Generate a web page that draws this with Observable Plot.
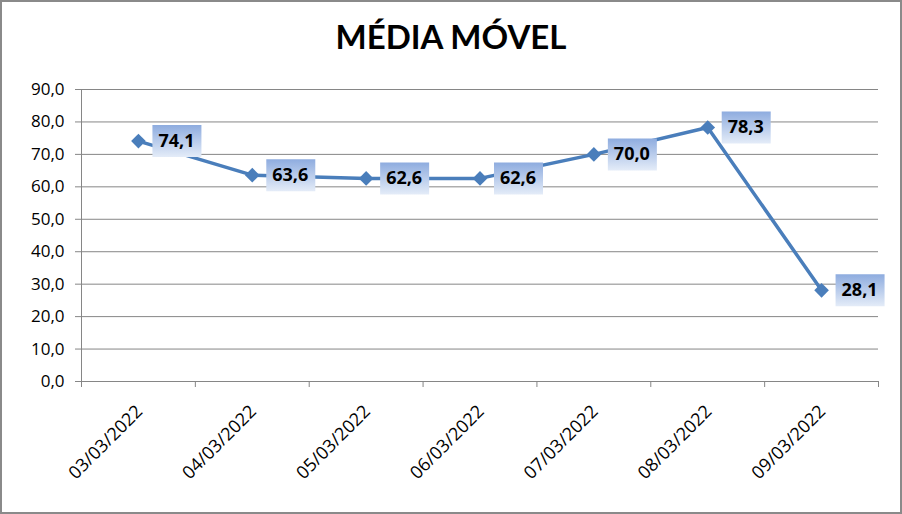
<!DOCTYPE html>
<html>
<head>
<meta charset="utf-8">
<script src="https://cdn.jsdelivr.net/npm/d3@7"></script>
<script src="https://cdn.jsdelivr.net/npm/@observablehq/plot@0.6"></script>
<style>
  html, body { margin: 0; padding: 0; background: #fff; }
  #wrap { position: relative; width: 902px; height: 514px; box-sizing: border-box; border: 2px solid #8a8a8a; background: #fff; overflow: hidden; }
  #title { position: absolute; left: 0; top: 14px; width: 898px; text-align: center; font-family: Lato, "Open Sans", sans-serif; font-weight: bold; font-size: 33px; color: #000; line-height: 40px; }
  svg { display: block; }
</style>
</head>
<body>
<div id="wrap"><div id="title">MÉDIA MÓVEL</div></div>
<script>
const dates = ["03/03/2022", "04/03/2022", "05/03/2022", "06/03/2022", "07/03/2022", "08/03/2022", "09/03/2022"];
const values = [74.1, 63.6, 62.6, 62.6, 70.0, 78.3, 28.1];
const yTicks = [0, 10, 20, 30, 40, 50, 60, 70, 80, 90];

const data = dates.map((d, i) => ({i, date: d, value: values[i]}));
const bounds = d3.range(-0.5, dates.length, 1);
const gray = "#868686";
const blue = "#4a7ebb";
const fmt = v => v.toFixed(1).replace(".", ",");

const labelBox = {
  draw(context) {
    context.moveTo(14, -16);
    context.lineTo(63, -16);
    context.lineTo(63, 16);
    context.lineTo(14, 16);
    context.closePath();
  }
};

const chart = Plot.plot({
  width: 898,
  height: 510,
  marginLeft: 79,
  marginRight: 22,
  marginTop: 87,
  marginBottom: 131,
  style: {fontFamily: "'Open Sans', sans-serif", background: "transparent"},
  x: {type: "linear", domain: [-0.5, dates.length - 0.5], axis: null, label: null},
  y: {domain: [0, 90], axis: null, label: null},
  marks: [
    Plot.gridY(yTicks.slice(1), {stroke: gray, strokeOpacity: 1, strokeWidth: 1}),
    Plot.ruleY([0], {stroke: gray, strokeWidth: 1}),
    Plot.ruleX([-0.5], {stroke: gray, strokeWidth: 1}),
    Plot.axisY(yTicks, {tickSize: 6, tickPadding: 11, tickFormat: fmt, stroke: gray, fill: "#000", fontSize: 17, label: null}),
    Plot.axisX(bounds, {tickSize: 6, tickFormat: () => "", stroke: gray, label: null}),
    Plot.text(data, {x: "i", frameAnchor: "bottom", text: "date", rotate: -45, textAnchor: "end", lineAnchor: "middle", dx: 1, dy: 27, fontSize: 18, fill: "#000"}),
    Plot.line(data, {x: "i", y: "value", stroke: blue, strokeWidth: 3.5, strokeLinejoin: "round"}),
    Plot.dot(data, {x: "i", y: "value", symbol: "diamond2", r: 6.6, fill: blue, stroke: "none"}),
    Plot.dot(data, {x: "i", y: "value", symbol: labelBox, r: 10, fill: "url(#lblgrad)", stroke: "none"}),
    Plot.text(data, {x: "i", y: "value", text: d => fmt(d.value), dx: 38, fontSize: 18, fontWeight: "bold", fill: "#000"})
  ]
});

const defs = d3.select(chart).insert("defs", ":first-child");
const g = defs.append("linearGradient").attr("id", "lblgrad").attr("x1", 0).attr("y1", 0).attr("x2", 0).attr("y2", 1);
g.append("stop").attr("offset", "0%").attr("stop-color", "#8eacdf");
g.append("stop").attr("offset", "100%").attr("stop-color", "#e4ecf8");

document.getElementById("wrap").appendChild(chart);
</script>
</body>
</html>
